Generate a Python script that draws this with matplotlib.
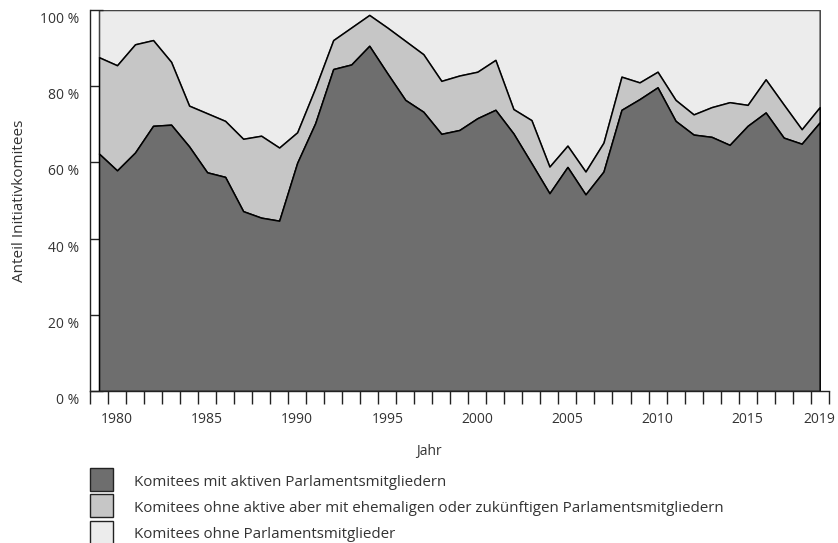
import matplotlib
matplotlib.use("Agg")
import matplotlib.pyplot as plt
from matplotlib.patches import Rectangle
from matplotlib.transforms import ScaledTranslation
import numpy as np

years = list(range(1979, 2020))
# share of committees with active MPs (%)
active = [62.3, 57.9, 62.6, 69.6, 69.9, 64.2, 57.4, 56.2, 47.2, 45.5, 44.7,
          59.9, 70.3, 84.5, 85.7, 90.6, 83.4, 76.4, 73.3, 67.5, 68.5,
          71.6, 73.8, 67.6, 59.8, 51.9, 58.8, 51.6, 57.6, 73.8, 76.6,
          79.7, 70.9, 67.3, 66.7, 64.6, 69.6, 73.1, 66.5, 64.9, 70.5]
# cumulative share incl. former/future MPs (%)
with_former = [87.6, 85.5, 91.0, 92.1, 86.4, 74.9, 72.9, 70.9, 66.2, 67.0, 63.9,
               67.9, 79.5, 92.1, 95.4, 98.7, 95.4, 91.9, 88.4, 81.4, 82.8,
               83.8, 86.9, 74.0, 71.1, 58.9, 64.4, 57.6, 65.2, 82.5, 81.0,
               83.8, 76.4, 72.6, 74.5, 75.8, 75.1, 81.8, 75.2, 68.7, 74.5]
total = [100.0] * len(years)

legend_labels = ["Komitees mit aktiven Parlamentsmitgliedern",
                 "Komitees ohne aktive aber mit ehemaligen oder zukünftigen Parlamentsmitgliedern",
                 "Komitees ohne Parlamentsmitglieder"]
colors = ["#6e6e6e", "#c6c6c6", "#ececec"]
year_labels = [1980, 1985, 1990, 1995, 2000, 2005, 2010, 2015, 2019]
y_ticks = [0, 20, 40, 60, 80, 100]

plt.rcParams['font.family'] = ['Open Sans', 'DejaVu Sans']
txt = "#333333"
axc = "#222222"

W, H = 838, 543
DPI = 100
fig = plt.figure(figsize=(W / DPI, H / DPI), dpi=DPI)
L, R, B, T = 90, 828.7, 391, 10
ax = fig.add_axes([L / W, 1 - B / H, (R - L) / W, (B - T) / H])

x = np.array(years)
ax.fill_between(x, 0, active, facecolor=colors[0], edgecolor="black", linewidth=1.1, zorder=3)
ax.fill_between(x, active, with_former, facecolor=colors[1], edgecolor="black", linewidth=1.1, zorder=2)
ax.fill_between(x, with_former, total, facecolor=colors[2], edgecolor="#444444", linewidth=1.1, zorder=1)

ax.set_xlim(years[0] - 0.5, years[-1] + 0.5)
ax.set_ylim(0, 100)
for s in ["top", "right"]:
    ax.spines[s].set_visible(False)
for s in ["left", "bottom"]:
    ax.spines[s].set_color(axc)
    ax.spines[s].set_linewidth(1.0)
    ax.spines[s].set_zorder(5)

# x axis: boundary ticks between years, labels at selected years
ax.set_xticks(year_labels)
ax.set_xticklabels([str(y) for y in year_labels])
ax.set_xticks(np.arange(years[0] - 0.5, years[-1] + 1.0, 1.0), minor=True)
ax.tick_params(axis="x", which="major", length=0, pad=23, labelsize=10, labelcolor=txt)
ax.tick_params(axis="x", which="minor", length=9, width=1.0, direction="out", color=axc)
for lab in ax.get_xticklabels():
    lab.set_verticalalignment("baseline")

# y axis: inward ticks, labels slightly below the tick line
ax.set_yticks(y_ticks)
ax.set_yticklabels([f"{v} %" for v in y_ticks])
ax.tick_params(axis="y", which="major", length=9, width=1.0, direction="in", color=axc,
               pad=8, labelsize=10, labelcolor=txt)
shift = ScaledTranslation(0, -13 / DPI, fig.dpi_scale_trans)
for lab in ax.get_yticklabels():
    lab.set_verticalalignment("baseline")
    lab.set_transform(lab.get_transform() + shift)

fig.text(23 / W, 1 - 200.5 / H, "Anteil Initiativkomitees", rotation=90, rotation_mode="anchor",
         ha="center", va="baseline", fontsize=11, color=txt)
fig.text(429 / W, 1 - 455 / H, "Jahr", ha="center", va="baseline", fontsize=10, color=txt)

for i, (lab, c) in enumerate(zip(legend_labels, colors)):
    top = 467.5 + i * 26.8
    fig.patches.append(Rectangle((90 / W, 1 - (top + 23) / H), 23 / W, 23 / H,
                                 transform=fig.transFigure, facecolor=c,
                                 edgecolor=axc, linewidth=1.0))
    fig.text(134 / W, 1 - (486 + i * 26) / H, lab, ha="left", va="baseline",
             fontsize=10.9, color=txt)

fig.savefig("out.png", dpi=DPI)
